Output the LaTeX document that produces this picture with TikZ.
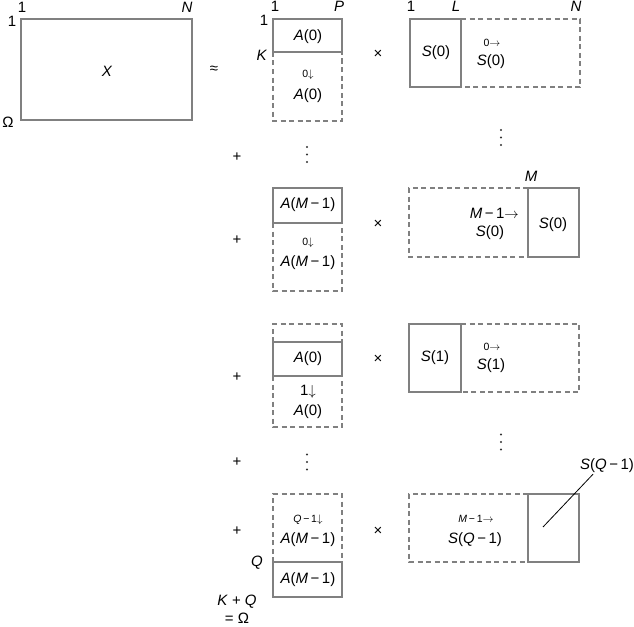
\documentclass[tikz,border=0pt]{standalone}
\usepackage{fontspec}
\setmainfont{Liberation Sans}
\usetikzlibrary{positioning}

\newcommand{\dn}{$\downarrow$}
\newcommand{\rt}{$\rightarrow$}

\begin{document}
\begin{tikzpicture}[x=1pt, y=-1pt, font=\fontsize{15}{16}\selectfont]
  % Define box, shift label and index styles
  \definecolor{boxgray}{gray}{0.5}
  \tikzstyle{solidbox} = [draw=boxgray, line width=1.1pt]
  \tikzstyle{dashbox} = [draw=boxgray, line width=1.1pt, dash pattern=on 5pt off 3.5pt]
  \tikzstyle{lbl} = [inner sep=1pt]
  \tikzstyle{shiftlbl} = [inner sep=0pt, font=\fontsize{10.5}{11}\selectfont]
  \tikzstyle{idx} = [inner sep=0pt]
  \tikzstyle{vdot} = [circle, fill=black!80, inner sep=0pt, minimum size=2.2pt]

  \useasboundingbox (0,0) rectangle (634,626);

  % Matrix X
  \draw[solidbox] (21,19) rectangle (192,120);
  \node[lbl] (x) at (107,71) {\textit{X}};
  \node[idx] (xc1) at (22,7) {1};
  \node[idx] (xcn) at (187,7) {\textit{N}};
  \node[idx] (xr1) at (12,21) {1};
  \node[idx] (xro) at (8,122) {Ω};
  \node[lbl] (approx) at (214,70) {≈};

  % first term: A(0) x S(0)
  \draw[solidbox] (273,19) rectangle (342,52);
  \draw[dashbox] (273,52) -- (273,121) -- (342,121) -- (342,52);
  \node[idx] (ac1) at (275,6) {1};
  \node[idx] (acp) at (339,6) {\textit{P}};
  \node[idx] (ar1) at (264,20) {1};
  \node[idx] (ark) at (262,55) {\textit{K}};
  \node[lbl] (a1) at (308,37) {\textit{A}(0)};
  \node[shiftlbl] (a1s) at (308,75) {0\dn};
  \node[lbl] (a1d) at (308,96) {\textit{A}(0)};
  \node[lbl] (t1) at (378,54) {×};
  \draw[solidbox] (410,19) rectangle (461,87);
  \draw[dashbox] (461,19) -- (580,19) -- (580,87) -- (461,87);
  \node[idx] (sc1) at (411,6) {1};
  \node[idx] (scl) at (456,6) {\textit{L}};
  \node[idx] (scn) at (576,6) {\textit{N}};
  \node[lbl] (s1) at (436,53) {\textit{S}(0)};
  \node[shiftlbl] (s1s) at (492,43) {0\rt};
  \node[lbl] (s1d) at (491,62) {\textit{S}(0)};

  % continuation dots
  \foreach \d in {0,1,2} {
    \node[vdot] (sdotsa\d) at (501,130+7.5*\d) {};
    \node[vdot] (adotsa\d) at (307,147+7.5*\d) {};
    \node[vdot] (sdotsb\d) at (501,434.5+7.5*\d) {};
    \node[vdot] (adotsb\d) at (307,454.5+7.5*\d) {};
  }
  \node[lbl] (p1) at (237,157) {+};

  % second term: A(M-1) x S(0)
  \draw[solidbox] (273,188) rectangle (342,223);
  \draw[dashbox] (273,223) -- (273,291) -- (342,291) -- (342,223);
  \node[lbl] (a2) at (308,205) {\textit{A}(\textit{M}\,−\,1)};
  \node[shiftlbl] (a2s) at (308,243) {0\dn};
  \node[lbl] (a2d) at (308,263) {\textit{A}(\textit{M}\,−\,1)};
  \node[lbl] (p2) at (237,240) {+};
  \node[lbl] (t2) at (378,224) {×};
  \draw[dashbox] (528,188) -- (409,188) -- (409,257) -- (528,257);
  \draw[solidbox] (528,188) rectangle (579,257);
  \node[idx] (scm) at (531,176) {\textit{M}};
  \node[lbl, anchor=east] (s2s) at (520,213) {\textit{M}\,−\,1\rt};
  \node[lbl] (s2d) at (490,233) {\textit{S}(0)};
  \node[lbl] (s2) at (553,225) {\textit{S}(0)};

  % third term: A(0) x S(1)
  \draw[dashbox] (273,342) -- (273,324) -- (342,324) -- (342,342);
  \draw[solidbox] (273,342) rectangle (342,376);
  \draw[dashbox] (273,376) -- (273,427) -- (342,427) -- (342,376);
  \node[lbl] (a3) at (308,359) {\textit{A}(0)};
  \node[lbl] (a3s) at (308,392) {1\dn};
  \node[lbl] (a3d) at (308,412) {\textit{A}(0)};
  \node[lbl] (p3) at (237,377) {+};
  \node[lbl] (t3) at (378,359) {×};
  \draw[solidbox] (409,324) rectangle (461,392);
  \draw[dashbox] (461,324) -- (579,324) -- (579,392) -- (461,392);
  \node[lbl] (s3) at (435,358) {\textit{S}(1)};
  \node[shiftlbl] (s3s) at (492,347) {0\rt};
  \node[lbl] (s3d) at (491,366) {\textit{S}(1)};

  \node[lbl] (p4) at (237,462) {+};

  % last term: A(M-1) x S(Q-1)
  \draw[dashbox] (273,562) -- (273,494) -- (342,494) -- (342,562);
  \draw[solidbox] (273,562) rectangle (342,597);
  \node[shiftlbl] (a4s) at (308,520) {\textit{Q}\,−\,1\dn};
  \node[lbl] (a4d) at (308,540) {\textit{A}(\textit{M}\,−\,1)};
  \node[lbl] (a4) at (308,580) {\textit{A}(\textit{M}\,−\,1)};
  \node[idx] (arq) at (257,563) {\textit{Q}};
  \node[idx] (arkq) at (237,602) {\textit{K} + \textit{Q}};
  \node[idx] (aromega) at (237,618) {= Ω};
  \node[lbl] (p5) at (237,531) {+};
  \node[lbl] (t4) at (378,531) {×};
  \draw[dashbox] (528,494) -- (409,494) -- (409,562) -- (528,562);
  \draw[solidbox] (528,494) rectangle (579,562);
  \node[shiftlbl] (s4s) at (476,519) {\textit{M}\,−\,1\rt};
  \node[lbl] (s4d) at (475,540) {\textit{S}(\textit{Q}\,−\,1)};
  \node[lbl] (s4) at (607,466) {\textit{S}(\textit{Q}\,−\,1)};
  \coordinate (s4in) at (543,527);
  \draw[line width=0.8pt] ([xshift=-14pt]s4.south) -- (s4in);
\end{tikzpicture}
\end{document}
